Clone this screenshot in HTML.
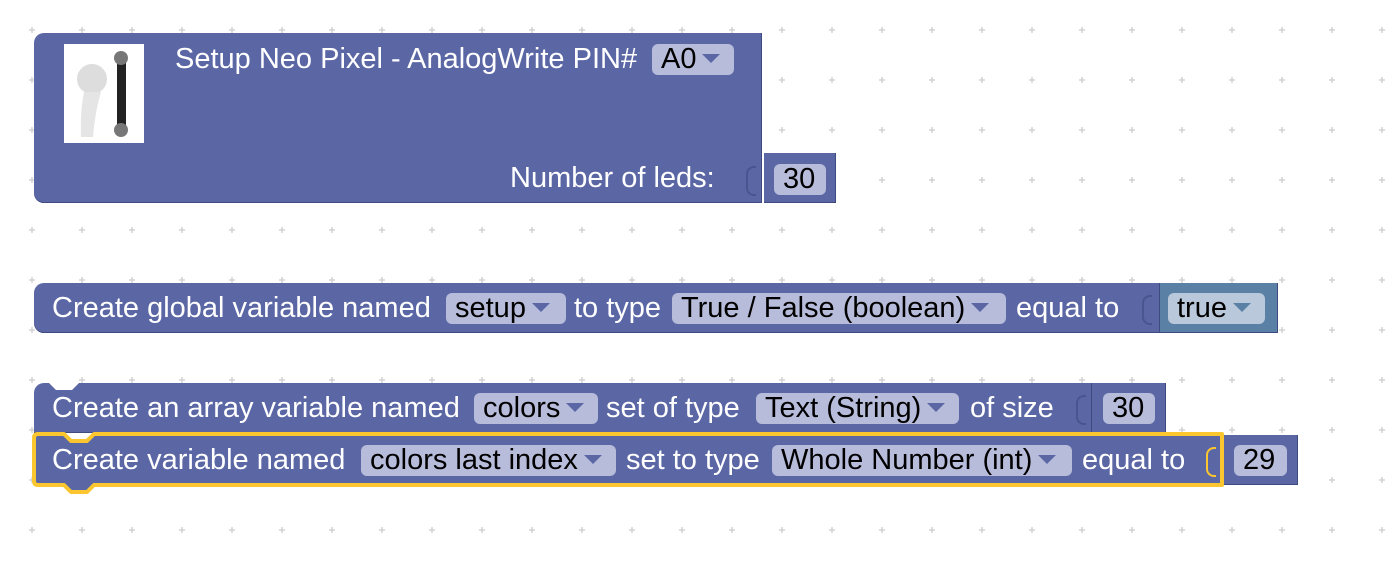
<!DOCTYPE html>
<html><head><meta charset="utf-8"><style>
body{margin:0;width:1390px;height:572px;overflow:hidden;background:#fff;font-family:"Liberation Sans",sans-serif;position:relative}
.grid{position:absolute;left:0;top:0}
.b{position:absolute;background:#5b67a5;box-shadow:inset 0 -1px 0 #3f4a80, inset -1px 0 0 #3f4a80}
.t{position:absolute;color:#fff;font-size:29px;white-space:nowrap;line-height:31px}
.f{position:absolute;background:#b8bcdb;border-radius:6px;color:#000;font-size:29px;line-height:31px;height:31px;padding:0 9px;box-sizing:border-box;white-space:nowrap}
.dd{display:inline-block;width:0;height:0;border-left:9px solid transparent;border-right:9px solid transparent;border-top:9px solid #5b67a5;vertical-align:middle;margin-left:6px;position:relative;top:-2px}
.nub{position:absolute;width:8px;height:26px;border:2px solid #4a548e;border-right:none;border-radius:8px 0 0 8px}
</style></head><body>
<svg class="grid" width="1390" height="572">
<defs><pattern id="p" x="27" y="25" width="50" height="50" patternUnits="userSpaceOnUse"><path d="M5 2v6M2 5h6" stroke="#ccc" stroke-width="1.3"/></pattern></defs>
<rect width="1390" height="572" fill="url(#p)"/>
</svg>

<!-- block 1 -->
<div class="b" style="left:34px;top:33px;width:728px;height:170px;border-radius:10px 0 0 10px"></div>
<div style="position:absolute;left:64px;top:44px;width:80px;height:99px;background:#fff"></div>
<svg style="position:absolute;left:64px;top:44px" width="80" height="99">
<circle cx="28" cy="35" r="15" fill="#ddd"/><path d="M20 48 q-4 20 -3 45 l12 0 q2-25 8-45z" fill="#e5e5e5"/>
<rect x="53" y="15" width="9" height="72" rx="3" fill="#222"/><circle cx="57" cy="14" r="7" fill="#777"/><circle cx="57" cy="86" r="7" fill="#777"/>
</svg>
<div class="t" style="left:175px;top:44px">Setup Neo Pixel - AnalogWrite PIN#</div>
<div class="f" style="left:652px;top:44px;width:82px">A0<span class="dd"></span></div>
<div class="t" style="left:510px;top:163px">Number of leds:</div>
<div class="nub" style="left:746px;top:166px"></div>
<div class="b" style="left:764px;top:153px;width:72px;height:50px"></div>
<div class="f" style="left:774px;top:164px;width:52px;padding:0 0 0 9px">30</div>

<!-- block 2 -->
<div class="b" style="left:34px;top:283px;width:1126px;height:50px;border-radius:10px 0 0 10px"></div>
<div class="t" style="left:52px;top:293px">Create global variable named</div>
<div class="f" style="left:446px;top:293px;width:120px">setup<span class="dd"></span></div>
<div class="t" style="left:574px;top:293px">to type</div>
<div class="f" style="left:672px;top:293px;width:334px">True / False (boolean)<span class="dd"></span></div>
<div class="t" style="left:1016px;top:293px">equal to</div>
<div class="nub" style="left:1142px;top:295px"></div>
<div class="b" style="left:1160px;top:283px;width:118px;height:50px;background:#5b80a5"></div>
<div class="f" style="left:1168px;top:293px;width:97px;background:#b9c8da">true<span class="dd" style="border-top-color:#5b80a5"></span></div>

<!-- block 3 -->
<div class="b" style="left:34px;top:383px;width:1058px;height:50px;border-radius:10px 0 0 0;clip-path:polygon(0 0,15px 0,22px 7px,38px 7px,45px 0,100% 0,100% 100%,0 100%)"></div>
<div class="t" style="left:52px;top:393px">Create an array variable named</div>
<div class="f" style="left:474px;top:393px;width:124px">colors<span class="dd"></span></div>
<div class="t" style="left:606px;top:393px">set of type</div>
<div class="f" style="left:756px;top:393px;width:203px">Text (String)<span class="dd"></span></div>
<div class="t" style="left:970px;top:393px">of size</div>
<div class="nub" style="left:1076px;top:395px"></div>
<div class="b" style="left:1092px;top:383px;width:74px;height:50px"></div>
<div class="f" style="left:1103px;top:393px;width:52px;padding:0 0 0 9px">30</div>

<!-- block 4 -->
<svg style="position:absolute;left:28px;top:430px" width="1200" height="66">
<path d="M10 4 H36 L43 11 H59 L66 4 H1194 V55 H66 L59 62 H43 L36 55 H10 Q6 55 6 51 V8 Q6 4 10 4 Z" fill="#5b67a5" stroke="#fbc630" stroke-width="4" stroke-linejoin="round"/>
</svg>
<div class="t" style="left:52px;top:445px">Create variable named</div>
<div class="f" style="left:361px;top:445px;width:255px">colors last index<span class="dd"></span></div>
<div class="t" style="left:626px;top:445px">set to type</div>
<div class="f" style="left:772px;top:445px;width:300px">Whole Number (int)<span class="dd"></span></div>
<div class="t" style="left:1082px;top:445px">equal to</div>
<div class="nub" style="left:1206px;top:447px;border-color:#fbc630"></div>
<div class="b" style="left:1224px;top:435px;width:74px;height:50px"></div>
<div class="f" style="left:1234px;top:445px;width:53px;padding:0 0 0 9px">29</div>
</body></html>
